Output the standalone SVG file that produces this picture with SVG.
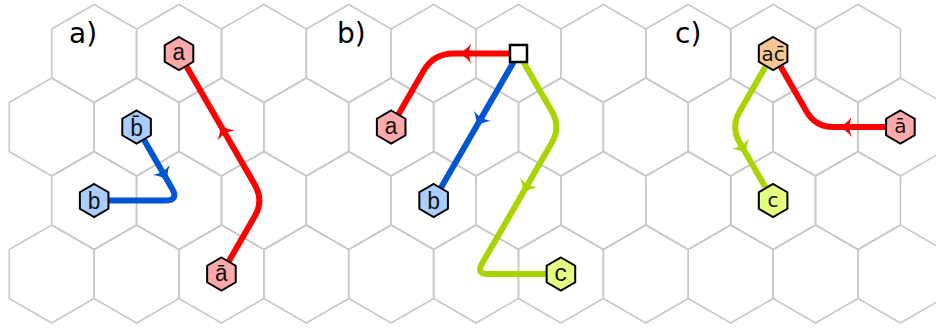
<svg xmlns="http://www.w3.org/2000/svg" xmlns:xlink="http://www.w3.org/1999/xlink" width="936" height="329" viewBox="0 0 936 329">
<style>
.grid use{fill:none;stroke:#c8c8c8;stroke-width:1.6}
.cn{fill:none;stroke-width:6;stroke-linecap:round;stroke-linejoin:round}
.red{stroke:#ff0000}.redf{fill:#ff0000}
.blue{stroke:#0055d4}.bluef{fill:#0055d4}
.grn{stroke:#aad400}.grnf{fill:#aad400}
.nd{stroke:#000;stroke-width:2;stroke-linejoin:miter}
.pink{fill:#ffaaaa}.lb{fill:#aaccff}.yl{fill:#e5ff80}.tan{fill:#f5c895}
.lm{font-family:"Liberation Mono",monospace;font-size:23px;fill:#111;text-anchor:middle}
.ls{font-family:"DejaVu Sans",sans-serif;font-size:20px;fill:#111;text-anchor:middle}
.pl{font-family:"DejaVu Sans",sans-serif;font-size:28px;fill:#000}
</style>
<defs>
<polygon id="hx" points="0,-49 42.44,-24.5 42.44,24.5 0,49 -42.44,24.5 -42.44,-24.5"/>
<polygon id="nh" points="0,-16.5 14.29,-8.25 14.29,8.25 0,16.5 -14.29,8.25 -14.29,-8.25"/>
<path id="ah" d="M3,0 C-1,-1.6 -6,-5 -9.5,-10 C-8.5,-6 -7.5,-3 -7.5,0 C-7.5,3 -8.5,6 -9.5,10 C-6,5 -1,1.6 3,0 Z"/>
</defs>
<rect width="936" height="329" fill="#fff"/>
<g class="grid" id="grid">
<use href="#hx" x="94.15" y="53.5"/><use href="#hx" x="179.02" y="53.5"/><use href="#hx" x="263.89" y="53.5"/><use href="#hx" x="348.76" y="53.5"/><use href="#hx" x="433.63" y="53.5"/><use href="#hx" x="518.5" y="53.5"/><use href="#hx" x="603.37" y="53.5"/><use href="#hx" x="688.24" y="53.5"/><use href="#hx" x="773.11" y="53.5"/><use href="#hx" x="857.98" y="53.5"/>
<use href="#hx" x="51.7" y="127"/><use href="#hx" x="136.57" y="127"/><use href="#hx" x="221.44" y="127"/><use href="#hx" x="306.31" y="127"/><use href="#hx" x="391.18" y="127"/><use href="#hx" x="476.05" y="127"/><use href="#hx" x="560.92" y="127"/><use href="#hx" x="645.79" y="127"/><use href="#hx" x="730.66" y="127"/><use href="#hx" x="815.53" y="127"/><use href="#hx" x="900.4" y="127"/>
<use href="#hx" x="94.15" y="200.5"/><use href="#hx" x="179.02" y="200.5"/><use href="#hx" x="263.89" y="200.5"/><use href="#hx" x="348.76" y="200.5"/><use href="#hx" x="433.63" y="200.5"/><use href="#hx" x="518.5" y="200.5"/><use href="#hx" x="603.37" y="200.5"/><use href="#hx" x="688.24" y="200.5"/><use href="#hx" x="773.11" y="200.5"/><use href="#hx" x="857.98" y="200.5"/>
<use href="#hx" x="51.7" y="274"/><use href="#hx" x="136.57" y="274"/><use href="#hx" x="221.44" y="274"/><use href="#hx" x="306.31" y="274"/><use href="#hx" x="391.18" y="274"/><use href="#hx" x="476.05" y="274"/><use href="#hx" x="560.92" y="274"/><use href="#hx" x="645.79" y="274"/><use href="#hx" x="730.66" y="274"/><use href="#hx" x="815.53" y="274"/><use href="#hx" x="900.4" y="274"/>
</g>
<g id="labels">
<text class="pl" x="69" y="43">a)</text>
<text class="pl" x="337" y="43">b)</text>
<text class="pl" x="675" y="43">c)</text>
</g>
<g id="connectors">
<path class="cn red" d="M221.44,274 L254.89,216.09 Q263.89,200.5 254.89,184.91 L179.02,53.5"/>
<use href="#ah" class="redf" transform="translate(221.44,127) rotate(-120)"/>
<path class="cn blue" d="M136.57,127 L172.02,188.38 Q179.02,200.5 165.02,200.5 L94.15,200.5"/>
<use href="#ah" class="bluef" transform="translate(166.1,178.3) rotate(60)"/>
<path class="cn red" d="M518.5,53.5 L453.63,53.5 Q433.63,53.5 423.63,70.82 L391.18,127"/>
<use href="#ah" class="redf" transform="translate(461.5,53.5) rotate(180)"/>
<path class="cn blue" d="M518.5,53.5 L433.63,200.5"/>
<use href="#ah" class="bluef" transform="translate(477.64,124.27) rotate(120)"/>
<path class="cn grn" d="M518.5,53.5 L551.92,111.41 Q560.92,127 551.92,142.59 L482.05,263.61 Q476.05,274 488.05,274 L560.92,274"/>
<use href="#ah" class="grnf" transform="translate(524,190.97) rotate(120)"/>
<path class="cn red" d="M900.4,127 L833.53,127 Q815.53,127 806.53,111.41 L773.11,53.5"/>
<use href="#ah" class="redf" transform="translate(842,127) rotate(180)"/>
<path class="cn grn" d="M773.11,53.5 L739.66,111.41 Q730.66,127 739.66,142.59 L773.11,200.5"/>
<use href="#ah" class="grnf" transform="translate(745.1,152) rotate(60)"/>
</g>
<g id="na1"><use href="#nh" class="nd pink" x="179.02" y="53.5"/><text class="lm" x="179.02" y="60">a</text></g>
<g id="nbbar1"><use href="#nh" class="nd lb" x="136.57" y="127"/><text class="lm" x="136.57" y="135.5">b&#x304;</text></g>
<g id="nb1"><use href="#nh" class="nd lb" x="94.15" y="200.5"/><text class="lm" x="94.15" y="209">b</text></g>
<g id="nabar1"><use href="#nh" class="nd pink" x="221.44" y="274"/><text class="lm" x="221.44" y="280.5">&#x101;</text></g>
<g id="nsq2"><rect x="510" y="45" width="17" height="17" fill="#fff" stroke="#000" stroke-width="2.5"/></g>
<g id="na2"><use href="#nh" class="nd pink" x="391.18" y="127"/><text class="lm" x="391.18" y="133.5">a</text></g>
<g id="nb2"><use href="#nh" class="nd lb" x="433.63" y="200.5"/><text class="lm" x="433.63" y="209">b</text></g>
<g id="nc2"><use href="#nh" class="nd yl" x="560.92" y="274"/><text class="lm" x="560.92" y="280.5">c</text></g>
<g id="nac3"><use href="#nh" class="nd tan" x="773.11" y="53.5"/><text class="ls" x="773.11" y="61">ac&#x304;</text></g>
<g id="nabar3"><use href="#nh" class="nd pink" x="900.4" y="127"/><text class="ls" x="900.4" y="133">&#x101;</text></g>
<g id="nc3"><use href="#nh" class="nd yl" x="773.11" y="200.5"/><text class="ls" x="773.11" y="206.5">c</text></g>
</svg>
